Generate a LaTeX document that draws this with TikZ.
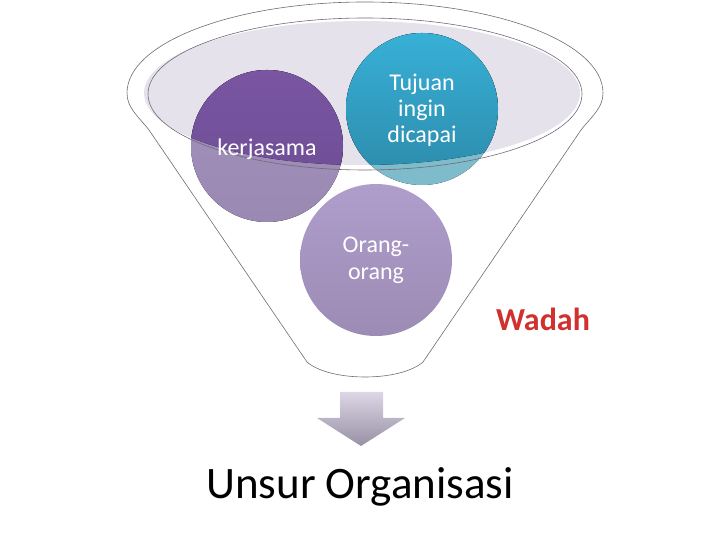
\documentclass[tikz,border=0pt]{standalone}
\usepackage{fontspec}
\setmainfont{Carlito}
\definecolor{rimfill}{HTML}{E6E2EC}
\definecolor{rimline}{HTML}{6F6A78}
\definecolor{kerjadark}{HTML}{7A55A2}
\definecolor{kerjadarkb}{HTML}{6C4C92}
\definecolor{kerjalight}{HTML}{A391BC}
\definecolor{kerjalightb}{HTML}{9A89B2}
\definecolor{tujudark}{HTML}{38B0D6}
\definecolor{tujudarkb}{HTML}{2C8AAA}
\definecolor{tujulight}{HTML}{7FBCCB}
\definecolor{orangtop}{HTML}{AF9DCC}
\definecolor{orangbot}{HTML}{9C8BB3}
\definecolor{wadahred}{HTML}{D0302E}
\definecolor{arrowtop}{HTML}{DCD6E6}
\definecolor{arrowbot}{HTML}{9890A4}

\begin{document}
\begin{tikzpicture}[x=1pt,y=1pt,
  rim/.style={draw=rimline,line width=.6pt},
  bubble/.style={circle,minimum size=152pt,inner sep=0pt,align=center,text=white,font=\fontsize{24}{26}\selectfont}]
\path[use as bounding box] (0,0) rectangle (720,540);

% funnel outline
\draw[rim] (127,447) arc[start angle=180,end angle=0,x radius=238,y radius=91]
  .. controls (603,432) and (592,424) .. (581,410)
  -- (423,178) .. controls (400,158) and (330,158) .. (307,178)
  -- (149,410) .. controls (138,424) and (127,432) .. (127,447) -- cycle;
\fill[rimfill] (362,447) ellipse[x radius=218,y radius=72];

% bubbles, pale part first
\fill[top color=kerjalight,bottom color=kerjalightb] (267,394) circle[radius=76];
\fill[top color=tujulight,bottom color=tujulight] (422,431) circle[radius=76];
\begin{scope}
\clip (362,447) ellipse[x radius=218,y radius=72];
\fill[top color=kerjadark,bottom color=kerjadarkb] (267,394) circle[radius=76];
\fill[top color=tujudark,bottom color=tujudarkb] (422,431) circle[radius=76];
\end{scope}
\draw[rim] (365,446) ellipse[x radius=217,y radius=76];
\shade[top color=orangtop,bottom color=orangbot] (376,280) circle[radius=76];

\node[bubble] (kerja) at (267,391) {kerjasama};
\node[bubble] (tujuan) at (422,430) {Tujuan\\ingin\\dicapai};
\node[bubble,font=\fontsize{24}{27}\selectfont] (orang) at (376,280) {Orang-\\orang};

\node[text=wadahred,font=\bfseries\fontsize{32}{34}\selectfont] (wadah) at (543,221) {Wadah};

% block arrow
\shade[top color=arrowtop,bottom color=arrowbot] (340,148) -- (383,148) -- (383,122) -- (405,122)
  -- (361,94) -- (317,122) -- (340,122) -- cycle;

\node[font=\fontsize{45}{50}\selectfont] (unsur) at (360,53) {Unsur Organisasi};
\end{tikzpicture}
\end{document}
